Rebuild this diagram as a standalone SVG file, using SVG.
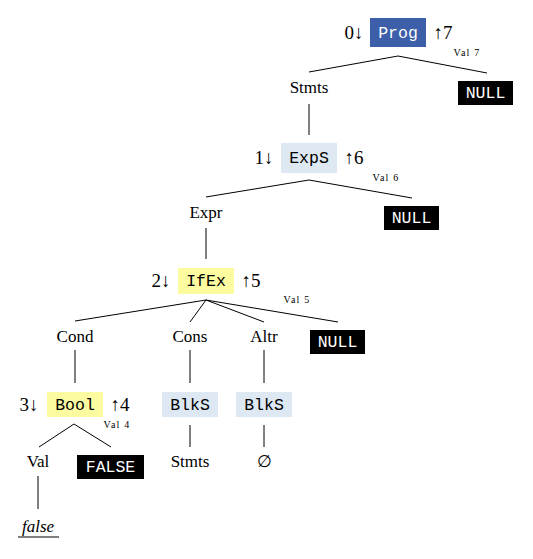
<svg xmlns="http://www.w3.org/2000/svg" width="533" height="559" viewBox="0 0 533 559">
<style>
.t{font-family:"Liberation Serif","DejaVu Serif",serif;font-size:17px;fill:#000;text-anchor:middle}
.n{font-family:"Liberation Serif","DejaVu Serif",serif;font-size:19px;fill:#000;text-anchor:middle}
.m{font-family:"Liberation Mono","DejaVu Sans Mono",monospace;font-size:16.5px;text-anchor:middle}
.s{font-family:"Liberation Serif","DejaVu Serif",serif;font-size:10px;fill:#000;text-anchor:middle;letter-spacing:1.2px}
.c line{stroke:#000;stroke-width:1}
</style>
<rect width="533" height="559" fill="#fff"/>
<g class="c" id="connectors">
<line x1="398" y1="56" x2="309" y2="72"/>
<line x1="398" y1="56" x2="487" y2="73"/>
<line x1="309" y1="104" x2="309" y2="135"/>
<line x1="309" y1="180" x2="206" y2="197"/>
<line x1="309" y1="180" x2="412" y2="198"/>
<line x1="206" y1="228" x2="206" y2="259"/>
<line x1="206" y1="300" x2="75" y2="321"/>
<line x1="206" y1="300" x2="190" y2="322"/>
<line x1="206" y1="300" x2="264" y2="322"/>
<line x1="206" y1="300" x2="338" y2="322"/>
<line x1="75" y1="350" x2="75" y2="383"/>
<line x1="190" y1="350" x2="190" y2="383"/>
<line x1="264" y1="350" x2="264" y2="383"/>
<line x1="74" y1="424" x2="39" y2="447"/>
<line x1="74" y1="424" x2="111" y2="447"/>
<line x1="190" y1="425" x2="190" y2="447"/>
<line x1="264" y1="425" x2="264" y2="447"/>
<line x1="38" y1="476" x2="38" y2="509"/>
</g>
<g id="prog">
<text class="n" x="354" y="39">0↓</text>
<rect x="370" y="18" width="56" height="29" fill="#3d5ea8"/>
<text class="m" x="398" y="38" fill="#fff">Prog</text>
<text class="n" x="443" y="39">↑7</text>
<text class="s" x="467" y="56">Val 7</text>
</g>
<g id="stmts1"><text class="t" x="309" y="93">Stmts</text></g>
<g id="null1">
<rect x="458" y="81" width="55" height="24" fill="#000"/>
<text class="m" x="485.5" y="98" fill="#fff">NULL</text>
</g>
<g id="exps">
<text class="n" x="264" y="164">1↓</text>
<rect x="281" y="143" width="56" height="30" fill="#dde8f3"/>
<text class="m" x="309" y="163" fill="#000">ExpS</text>
<text class="n" x="354" y="164">↑6</text>
<text class="s" x="386" y="181">Val 6</text>
</g>
<g id="expr"><text class="t" x="206" y="218">Expr</text></g>
<g id="null2">
<rect x="384" y="206" width="55" height="24" fill="#000"/>
<text class="m" x="411.5" y="223" fill="#fff">NULL</text>
</g>
<g id="ifex">
<text class="n" x="161" y="287">2↓</text>
<rect x="178" y="268" width="56" height="26" fill="#fdfba0"/>
<text class="m" x="206" y="286" fill="#000">IfEx</text>
<text class="n" x="251" y="287">↑5</text>
<text class="s" x="297" y="303">Val 5</text>
</g>
<g id="cond"><text class="t" x="75" y="342">Cond</text></g>
<g id="cons"><text class="t" x="190" y="342">Cons</text></g>
<g id="altr"><text class="t" x="264" y="342">Altr</text></g>
<g id="null3">
<rect x="310" y="330" width="55" height="24" fill="#000"/>
<text class="m" x="337.5" y="347" fill="#fff">NULL</text>
</g>
<g id="bool">
<text class="n" x="29" y="411">3↓</text>
<rect x="47" y="392" width="56" height="25" fill="#fdfba0"/>
<text class="m" x="75" y="410" fill="#000">Bool</text>
<text class="n" x="120" y="411">↑4</text>
<text class="s" x="117" y="428">Val 4</text>
</g>
<g id="blks1">
<rect x="162" y="392" width="56" height="25" fill="#dde8f3"/>
<text class="m" x="190" y="410" fill="#000">BlkS</text>
</g>
<g id="blks2">
<rect x="236" y="392" width="56" height="25" fill="#dde8f3"/>
<text class="m" x="264" y="410" fill="#000">BlkS</text>
</g>
<g id="val"><text class="t" x="38" y="467">Val</text></g>
<g id="false1">
<rect x="77" y="455" width="67" height="24" fill="#000"/>
<text class="m" x="110.5" y="472" fill="#fff">FALSE</text>
</g>
<g id="stmts2"><text class="t" x="190" y="467">Stmts</text></g>
<g id="empty"><text class="t" x="264" y="467">∅</text></g>
<g id="false2">
<text class="t" x="38" y="532" font-style="italic">false</text>
<line x1="18" y1="537" x2="59" y2="537" stroke="#000" stroke-width="1"/>
</g>
</svg>
